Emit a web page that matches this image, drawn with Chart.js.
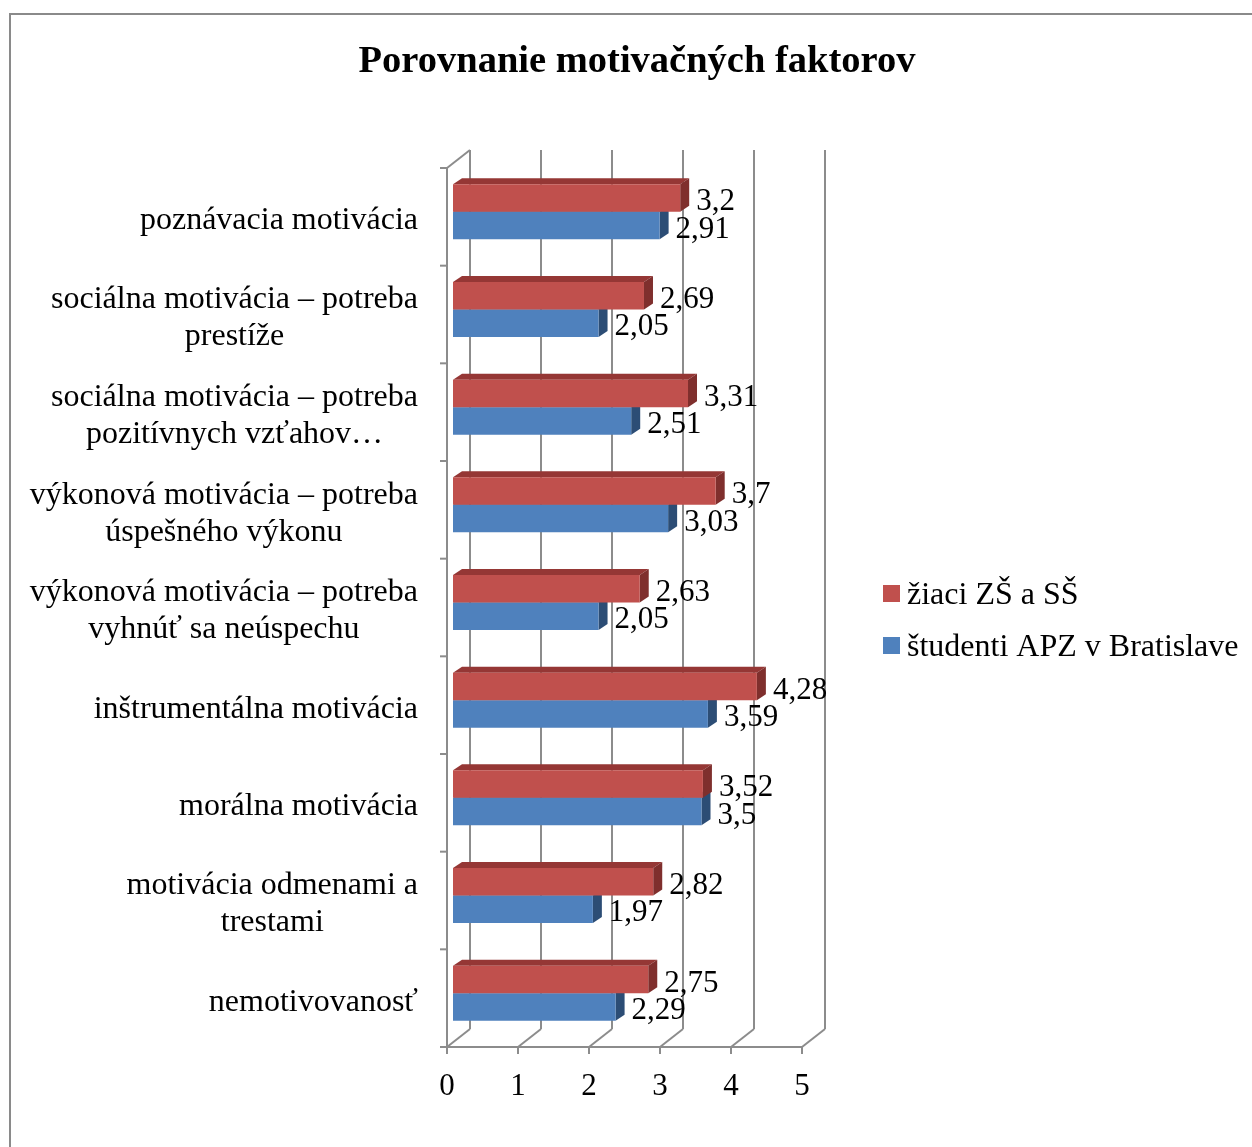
<!DOCTYPE html>
<html>
<head>
<meta charset="utf-8">
<script src="https://cdn.jsdelivr.net/npm/chart.js@4/dist/chart.umd.min.js"></script>
<style>
  html, body { margin: 0; padding: 0; background: #fff; overflow: hidden; }
  #wrap { width: 1252px; height: 1147px; }
</style>
</head>
<body>
<div id="wrap"><canvas id="c" width="1252" height="1147"></canvas></div>
<script>
// ---- data ----
const TITLE = 'Porovnanie motivačných faktorov';
const CATEGORIES = [
  'poznávacia motivácia',
  ['sociálna motivácia – potreba', 'prestíže'],
  ['sociálna motivácia – potreba', 'pozitívnych vzťahov…'],
  ['výkonová motivácia – potreba', 'úspešného výkonu'],
  ['výkonová motivácia – potreba', 'vyhnúť sa neúspechu'],
  'inštrumentálna motivácia',
  'morálna motivácia',
  ['motivácia odmenami a', 'trestami'],
  'nemotivovanosť'
];
const SERIES_NAMES = ['žiaci ZŠ a SŠ', 'študenti APZ v Bratislave'];
const PUPILS   = [3.2, 2.69, 3.31, 3.7, 2.63, 4.28, 3.52, 2.82, 2.75];
const STUDENTS = [2.91, 2.05, 2.51, 3.03, 2.05, 3.59, 3.5, 1.97, 2.29];
const X_TICKS = [0, 1, 2, 3, 4, 5];

// ---- styling ----
const FONT = "'Liberation Serif', 'Times New Roman', serif";
const GRID = '#8c8c8c';
const FACE = ['#C0504D', '#4F81BD'];
const TOP_FACE = ['#953735', '#385D8A'];
const SIDE_FACE = ['#7F2F2D', '#2C4D75'];
// pseudo-3D offsets relative to the plane the bar fronts sit in
const FRONT = { dx: -6, dy: 5 };
const BACK = { dx: 17, dy: -13 };
const DEPTH = { dx: 9, dy: -6 };

const fmt = v => String(v).replace('.', ',');

function line(ctx, x1, y1, x2, y2) {
  ctx.beginPath();
  ctx.moveTo(x1, y1);
  ctx.lineTo(x2, y2);
  ctx.stroke();
}
function poly(ctx, pts, color) {
  ctx.beginPath();
  ctx.moveTo(pts[0][0], pts[0][1]);
  for (let i = 1; i < pts.length; i++) ctx.lineTo(pts[i][0], pts[i][1]);
  ctx.closePath();
  ctx.fillStyle = color;
  ctx.fill();
}

const frame3d = {
  id: 'frame3d',
  beforeDraw(chart) {
    const ctx = chart.ctx;
    ctx.save();
    ctx.fillStyle = '#fff';
    ctx.fillRect(0, 0, chart.width, chart.height);
    // outer chart border (left and top edges are visible)
    ctx.strokeStyle = '#8a8a8a';
    ctx.lineWidth = 2;
    ctx.beginPath();
    ctx.moveTo(10, chart.height + 2);
    ctx.lineTo(10, 14);
    ctx.lineTo(chart.width + 2, 14);
    ctx.stroke();
    ctx.restore();
  },
  beforeDatasetsDraw(chart) {
    const ctx = chart.ctx;
    const xs = chart.scales.x, a = chart.chartArea;
    const top = a.top, bot = a.bottom;
    const x0 = xs.getPixelForValue(X_TICKS[0]);
    const xN = xs.getPixelForValue(X_TICKS[X_TICKS.length - 1]);
    ctx.save();
    ctx.strokeStyle = GRID;
    ctx.lineWidth = 2;
    X_TICKS.forEach(v => {
      const x = xs.getPixelForValue(v);
      line(ctx, x + BACK.dx, top + BACK.dy, x + BACK.dx, bot + BACK.dy);
      line(ctx, x + FRONT.dx, bot + FRONT.dy, x + BACK.dx, bot + BACK.dy);
      line(ctx, x + FRONT.dx, bot + FRONT.dy, x + FRONT.dx, bot + FRONT.dy + 7);
    });
    line(ctx, x0 + FRONT.dx - 1, bot + FRONT.dy, xN + FRONT.dx, bot + FRONT.dy);
    line(ctx, x0 + FRONT.dx, top + FRONT.dy, x0 + FRONT.dx, bot + FRONT.dy);
    line(ctx, x0 + FRONT.dx, top + FRONT.dy, x0 + BACK.dx, top + BACK.dy);
    const n = chart.data.labels.length;
    const band = (bot - top) / n;
    for (let k = 0; k <= n; k++) {
      const y = top + k * band + FRONT.dy;
      line(ctx, x0 + FRONT.dx - 7, y, x0 + FRONT.dx, y);
    }
    // top and side faces of the bars (lower series first)
    for (let di = chart.data.datasets.length - 1; di >= 0; di--) {
      const meta = chart.getDatasetMeta(di);
      meta.data.forEach(bar => {
        const { x, y, base, height } = bar.getProps(['x', 'y', 'base', 'height'], true);
        const t = y - height / 2, b = y + height / 2;
        poly(ctx, [[base, t], [base + DEPTH.dx, t + DEPTH.dy], [x + DEPTH.dx, t + DEPTH.dy], [x, t]], TOP_FACE[di]);
        poly(ctx, [[x, t], [x + DEPTH.dx, t + DEPTH.dy], [x + DEPTH.dx, b + DEPTH.dy], [x, b]], SIDE_FACE[di]);
      });
    }
    ctx.restore();
  },
  afterDatasetsDraw(chart) {
    const ctx = chart.ctx;
    ctx.save();
    ctx.fillStyle = '#000';
    ctx.font = '31px ' + FONT;
    ctx.textAlign = 'left';
    ctx.textBaseline = 'middle';
    chart.data.datasets.forEach((ds, di) => {
      chart.getDatasetMeta(di).data.forEach((bar, i) => {
        ctx.fillText(fmt(ds.data[i]), bar.x + 16, bar.y + 4);
      });
    });
    ctx.restore();
  },
  afterDraw(chart) {
    const ctx = chart.ctx;
    const ys = chart.scales.y, a = chart.chartArea;
    ctx.save();
    ctx.fillStyle = '#000';
    // title
    ctx.font = 'bold 38.5px ' + FONT;
    ctx.textAlign = 'center';
    ctx.textBaseline = 'middle';
    ctx.fillText(TITLE, 637, 62);
    // category labels: block right-aligned, lines centred within the block
    ctx.font = '32px ' + FONT;
    const labelRight = a.left - 35;
    const lineH = 37;
    chart.data.labels.forEach((lab, i) => {
      const lines = Array.isArray(lab) ? lab : [lab];
      const w = Math.max(...lines.map(s => ctx.measureText(s).width));
      const cx = labelRight - w / 2;
      const cy = ys.getPixelForValue(i) + FRONT.dy + 4;
      lines.forEach((s, j) => {
        ctx.fillText(s, cx, cy + (j - (lines.length - 1) / 2) * lineH);
      });
    });
    // legend
    const lx = a.right + 75;
    const ly = 593;
    ctx.textAlign = 'left';
    chart.data.datasets.forEach((ds, di) => {
      const y = ly + di * 52;
      ctx.fillStyle = ds.backgroundColor;
      ctx.fillRect(lx, y - 8, 17, 17);
      ctx.fillStyle = '#000';
      ctx.fillText(ds.label, lx + 24, y + 3);
    });
    ctx.restore();
  }
};

Chart.defaults.font.family = FONT;
Chart.defaults.color = '#000';

new Chart(document.getElementById('c'), {
  type: 'bar',
  data: {
    labels: CATEGORIES,
    datasets: [
      { label: SERIES_NAMES[0], data: PUPILS, backgroundColor: FACE[0] },
      { label: SERIES_NAMES[1], data: STUDENTS, backgroundColor: FACE[1] }
    ]
  },
  options: {
    indexAxis: 'y',
    responsive: false,
    animation: false,
    layout: { padding: { top: 163, left: 0, right: 444, bottom: 0 } },
    datasets: { bar: { categoryPercentage: 0.563, barPercentage: 1, borderWidth: 0 } },
    plugins: {
      legend: { display: false },
      title: { display: false },
      tooltip: { enabled: false }
    },
    scales: {
      x: {
        min: 0,
        max: 5,
        afterBuildTicks: s => { s.ticks = X_TICKS.map(v => ({ value: v })); },
        ticks: { font: { size: 31 }, color: '#000', padding: 26, labelOffset: -6, maxRotation: 0 },
        grid: { display: false, drawTicks: false },
        border: { display: false },
        afterFit: s => { s.height = 105; }
      },
      y: {
        ticks: { display: false },
        grid: { display: false, drawTicks: false },
        border: { display: false },
        afterFit: s => { s.width = 453; }
      }
    }
  },
  plugins: [frame3d]
});
</script>
</body>
</html>
